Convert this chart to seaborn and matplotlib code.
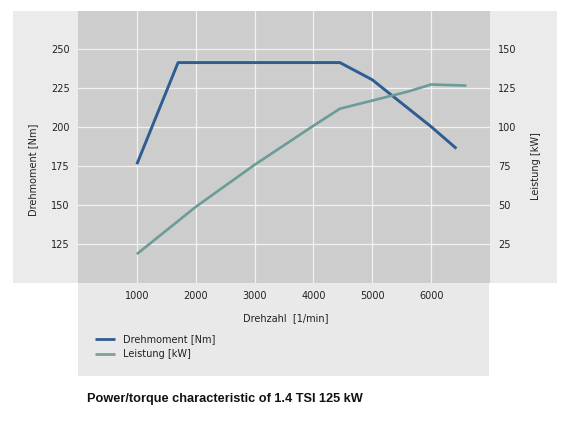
import matplotlib
matplotlib.use("Agg")
import matplotlib.pyplot as plt
from matplotlib.patches import Rectangle
from matplotlib.lines import Line2D
import seaborn as sns
import pandas as pd

# ---- data ----
rpm_torque = [1000, 1700, 4450, 5000, 6000, 6430]
torque_nm = [176, 241, 241, 230, 200, 186]
rpm_power = [1000, 2000, 3000, 4000, 4450, 5000, 5600, 6000, 6600]
power_kw = [18.5, 48.7, 75.6, 100.6, 111.5, 116.7, 122.4, 127, 126.3]
x_ticks = [1000, 2000, 3000, 4000, 5000, 6000]
y_left_ticks = [125, 150, 175, 200, 225, 250]
y_right_ticks = [25, 50, 75, 100, 125, 150]
label_torque = "Drehmoment [Nm]"
label_power = "Leistung [kW]"
x_label = "Drehzahl  [1/min]"
title = "Power/torque characteristic of 1.4 TSI 125 kW"

sns.set_style("white")
plt.rcParams['font.family'] = ['DejaVu Sans']

W, H = 576, 430
fig = plt.figure(figsize=(W / 100, H / 100), dpi=100)
fig.patch.set_facecolor("white")

def fx(px):
    return px / W

def fy(py):
    return 1 - py / H

# outer light panel
fig.patches.append(Rectangle((fx(13), fy(283)), fx(557) - fx(13), fy(11) - fy(283),
                             transform=fig.transFigure, facecolor="#ebebeb",
                             edgecolor="none", zorder=-2))
# lower panel
fig.patches.append(Rectangle((fx(78), fy(376)), fx(489) - fx(78), fy(283) - fy(376),
                             transform=fig.transFigure, facecolor="#e9e9e9",
                             edgecolor="none", zorder=-2))

ax = fig.add_axes([fx(78), fy(283), fx(490) - fx(78), fy(11) - fy(283)])
ax.set_zorder(1)
ax.set_facecolor("#cdcdcd")
ax2 = ax.twinx()
ax2.set_zorder(2)
ax2.patch.set_visible(False)

c_torque = "#2e5e91"
c_power = "#6c9c98"

df_t = pd.DataFrame({"rpm": rpm_torque, "val": torque_nm})
df_p = pd.DataFrame({"rpm": rpm_power, "val": power_kw})
sns.lineplot(data=df_t, x="rpm", y="val", ax=ax, color=c_torque, linewidth=2.1,
             solid_capstyle="butt", zorder=5, legend=False)
sns.lineplot(data=df_p, x="rpm", y="val", ax=ax2, color=c_power, linewidth=1.9,
             solid_capstyle="butt", zorder=5, legend=False)

ax.set_xlim(0, 7000)
ax.set_ylim(100, 274)
ax2.set_ylim(0, 174)
ax.set_xticks(x_ticks)
ax.set_yticks(y_left_ticks)
ax2.set_yticks(y_right_ticks)
ax.grid(True, color="#f2f2f2", linewidth=0.9)
ax.set_axisbelow(True)
ax2.grid(False)
for a in (ax, ax2):
    for s in a.spines.values():
        s.set_visible(False)
ax.tick_params(axis="both", length=0, labelsize=7, colors="#222222")
ax.tick_params(axis="x", pad=6)
ax.tick_params(axis="y", pad=6)
ax2.tick_params(axis="y", length=0, labelsize=7, colors="#222222", pad=6)
ax.set_xlabel("")
ax.set_ylabel("")
ax2.set_ylabel("")

# axis labels
fig.text(fx(286), fy(318), x_label, ha="center", va="center", fontsize=7, color="#222222")
fig.text(fx(33), fy(170), label_torque, ha="center", va="center", rotation=90,
         fontsize=7, color="#222222")
fig.text(fx(536), fy(166), label_power, ha="center", va="center", rotation=90,
         fontsize=7, color="#222222")

# legend
handles = [Line2D([], [], color=c_torque, linewidth=2.0, solid_capstyle="butt"),
           Line2D([], [], color="#7fa09c", linewidth=2.0, solid_capstyle="butt")]
fig.legend(handles, [label_torque, label_power], loc="upper left",
           bbox_to_anchor=(fx(95), fy(334)), frameon=False, fontsize=7,
           handlelength=2.1, handletextpad=0.8, labelspacing=0.55,
           borderpad=0, borderaxespad=0, labelcolor="#222222")

fig.text(fx(87), fy(399), title, ha="left", va="center", fontsize=9.2,
         fontweight="bold", family=["Liberation Sans", "DejaVu Sans"], color="#111111")

fig.savefig("out.png", dpi=100)
